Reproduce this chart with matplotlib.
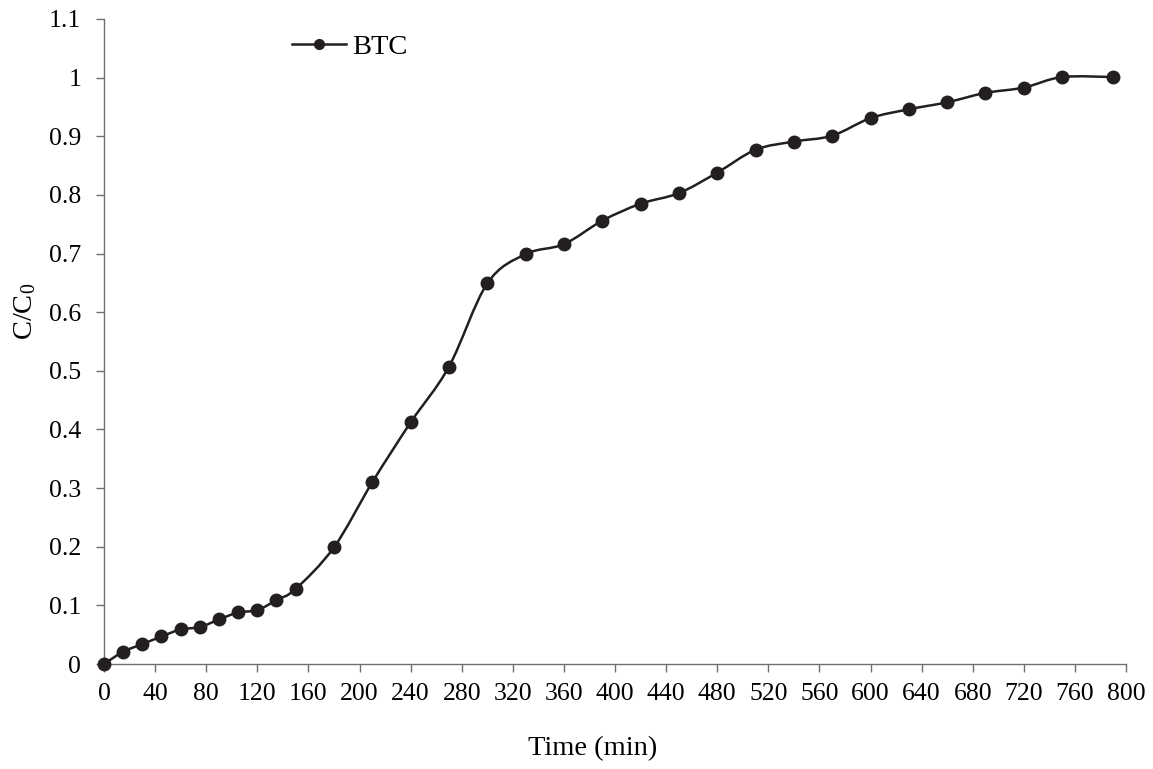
import numpy as np
import matplotlib
matplotlib.use("Agg")
import matplotlib.pyplot as plt
from matplotlib.path import Path
from matplotlib.patches import PathPatch
from matplotlib.lines import Line2D
from matplotlib.ticker import FuncFormatter, MultipleLocator

# breakthrough curve data
time_min = [0, 15, 30, 45, 60, 75, 90, 105, 120, 135, 150, 180, 210, 240, 270, 300,
            330, 360, 390, 420, 450, 480, 510, 540, 570, 600, 630, 660, 690, 720, 750, 790]
c_c0 = [0.0, 0.021, 0.034, 0.047, 0.059, 0.063, 0.076, 0.088, 0.092, 0.109, 0.128, 0.199,
        0.310, 0.412, 0.507, 0.649, 0.699, 0.716, 0.756, 0.785, 0.803, 0.838, 0.877, 0.891,
        0.901, 0.931, 0.946, 0.958, 0.974, 0.983, 1.001, 1.001]

plt.rcParams['font.family'] = ['Liberation Serif', 'DejaVu Serif']
plt.rcParams['mathtext.fontset'] = 'custom'
plt.rcParams['mathtext.rm'] = 'Liberation Serif'
plt.rcParams['mathtext.it'] = 'Liberation Serif:italic'
ink = '#231f20'
axis_col = '#6f6f6f'


def smooth_path(xs, ys):
    # Excel-like smoothed line: cubic bezier through the points (Catmull-Rom)
    p = np.column_stack([xs, ys]).astype(float)
    verts = [p[0]]
    codes = [Path.MOVETO]
    n = len(p)
    for i in range(n - 1):
        p0 = p[i - 1] if i > 0 else p[i]
        p1 = p[i]
        p2 = p[i + 1]
        p3 = p[i + 2] if i + 2 < n else p[i + 1]
        verts += [p1 + (p2 - p0) / 6.0, p2 - (p3 - p1) / 6.0, p2]
        codes += [Path.CURVE4] * 3
    return Path(verts, codes)


fig = plt.figure(figsize=(11.53, 7.69), dpi=100)
ax = fig.add_axes([0.0902, 0.1365, 0.8864, 0.8388])

ax.add_patch(PathPatch(smooth_path(time_min, c_c0), facecolor='none',
                       edgecolor=ink, lw=1.8, clip_on=False, zorder=3))
ax.plot(time_min, c_c0, linestyle='none', marker='o', ms=9, color=ink,
        clip_on=False, zorder=4)

ax.set_xlim(0, 800)
ax.set_ylim(0, 1.1)
ax.xaxis.set_major_locator(MultipleLocator(40))
ax.yaxis.set_major_locator(MultipleLocator(0.1))
ax.yaxis.set_major_formatter(FuncFormatter(lambda v, _: '%g' % round(v, 2)))

for s in ['top', 'right']:
    ax.spines[s].set_visible(False)
for s in ['left', 'bottom']:
    ax.spines[s].set_color(axis_col)
    ax.spines[s].set_linewidth(1.0)

ax.tick_params(axis='both', direction='out', length=6, width=1.0, color=axis_col,
               labelsize=18.5, labelcolor='black')
ax.tick_params(axis='x', pad=8)
ax.tick_params(axis='y', pad=10.5)

ax.set_xlabel('Time (min)', fontsize=20.5)
ax.xaxis.set_label_coords(0.478, -0.112)
ax.set_ylabel('C/C$_\\mathregular{0}$', fontsize=20.5)
ax.yaxis.set_label_coords(-0.064, 0.547)

handle = Line2D([], [], color=ink, lw=1.8, marker='o', ms=7)
ax.legend([handle], ['BTC'], loc='center left', bbox_to_anchor=(0.184, 0.957),
          frameon=False, fontsize=20.5, handlelength=1.9, handletextpad=0.2,
          borderpad=0, borderaxespad=0)

fig.savefig('out.png', dpi=100)
